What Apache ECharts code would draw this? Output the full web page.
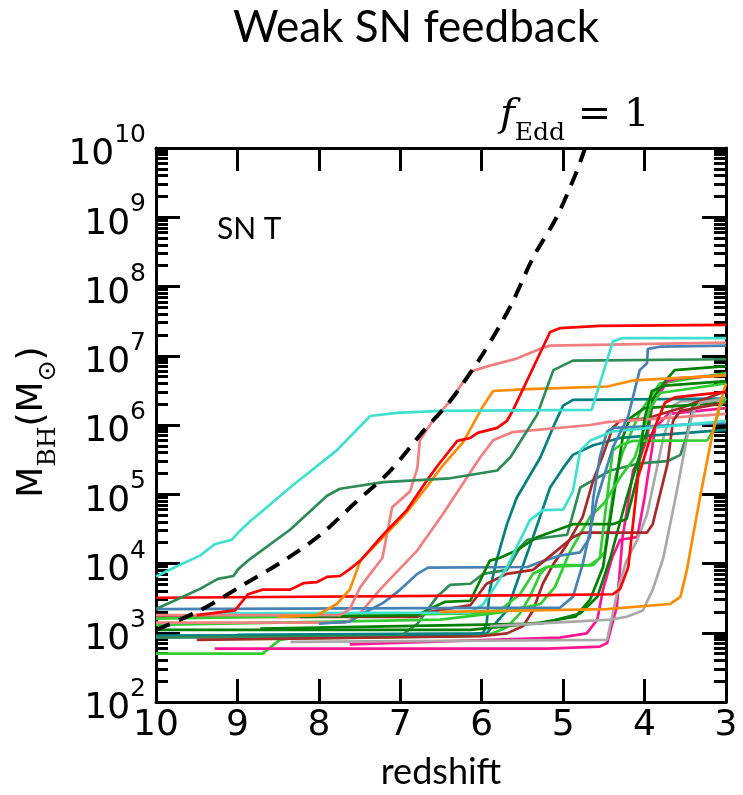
<!DOCTYPE html>
<html>
<head>
<meta charset="utf-8">
<script src="https://cdn.jsdelivr.net/npm/echarts@6/dist/echarts.min.js"></script>
<style>
  html, body { margin: 0; padding: 0; background: #fff; }
  #chart { width: 743px; height: 795px; }
</style>
</head>
<body>
<div id="chart"></div>
<script>
// Axis ranges
const redshiftRange = [3, 10];
const massRange = [1e2, 1e10];

// Black hole growth tracks: [redshift, M_BH / M_sun]
const turquoiseA = [[10,6.5e3],[9.71,9.5e3],[9.46,1.3e4],[9.28,1.9e4],[9.07,2.2e4],[8.99,2.8e4],[8.85,4.0e4],[8.32,1.35e5],[7.78,4.3e5],[7.37,1.35e6],[7.04,1.5e6],[6.51,1.6e6],[4.65,1.65e6],[4.39,1.6e7],[4.27,1.8e7],[3.0,1.8e7]];
const seagreenA = [[10,2.2e3],[9.67,3.3e3],[9.46,4.3e3],[9.24,6.0e3],[9.05,6.6e3],[8.99,8.3e3],[8.85,1.15e4],[8.35,3.1e4],[7.9,9.5e4],[7.74,1.2e5],[7.21,1.5e5],[6.39,1.7e5],[5.81,2.2e5],[5.65,3.4e5],[5.32,1.4e6],[5.12,6.2e6],[4.88,8.5e6],[3.0,8.9e6]];
const redA = [[9.5,1.8e3],[9.03,2.1e3],[8.87,3.6e3],[8.69,4.2e3],[8.35,4.2e3],[8.19,5.2e3],[8.02,5.4e3],[7.9,6.4e3],[7.74,6.6e3],[7.62,8.3e3],[7.49,1.1e4],[7.21,2.6e4],[6.92,5.9e4],[6.67,1.6e5],[6.54,2.6e5],[6.3,5.9e5],[6.14,6.5e5],[6.05,7.7e5],[5.81,9.1e5],[5.69,1.15e6],[5.62,1.6e6],[5.16,2.2e7],[5.04,2.5e7],[4.55,2.7e7],[3.0,2.8e7]];
const orangeA = [[8.5,1.7e3],[8.02,1.8e3],[7.78,2.6e3],[7.62,4.2e3],[7.49,1.1e4],[7.21,2.4e4],[6.92,5.5e4],[6.67,1.3e5],[6.49,2.5e5],[6.23,5.6e5],[5.98,1.9e6],[5.86,3.1e6],[5.44,3.3e6],[4.46,3.6e6],[4.14,4.4e6],[3.0,5.2e6]];
const lightcoralA = [[10,1.8e3],[7.74,1.8e3],[7.62,2.2e3],[7.49,4.6e3],[7.22,1.2e4],[7.1,6.5e4],[6.88,1.1e5],[6.79,2.4e5],[6.76,6.0e5],[6.6,1.15e6],[6.39,2.2e6],[6.14,5.9e6],[5.9,7.2e6],[5.57,9.1e6],[5.28,1.26e7],[5.16,1.4e7],[3.0,1.55e7]];
const lightcoralB = [[10,1.4e3],[7.68,1.4e3],[7.53,1.7e3],[7.25,4.2e3],[6.79,1.55e4],[6.48,5.1e4],[6.02,3.4e5],[5.86,6.0e5],[5.62,7.9e5],[4.67,1.0e6],[4.46,1.1e6],[3.0,1.45e6]];
const tealA = [[10,9.1e2],[6.14,9.4e2],[5.98,1.0e3],[5.94,1.35e3],[5.9,4.2e3],[5.81,1.2e4],[5.69,3.7e4],[5.57,8.9e4],[5.28,3.4e5],[5.1,1.07e6],[5.0,1.9e6],[4.88,2.3e6],[3.0,2.4e6]];
const tealB = [[9.0,9.3e2],[5.94,9.8e2],[5.69,2.1e3],[5.37,2.4e4],[5.16,1.25e5],[5.0,2.4e5],[4.88,3.7e5],[4.63,5.1e5],[4.3,6.5e5],[3.0,8.5e5]];
const turquoiseB = [[9.25,1.9e3],[6.14,1.95e3],[5.98,2.6e3],[5.86,4.2e3],[5.69,8.9e3],[5.41,4.2e4],[5.25,5.9e4],[5.0,6.0e4],[4.88,1.1e5],[4.79,4.3e5],[4.67,5.9e5],[4.39,8.1e5],[3.0,1.15e6]];
const steelblueA = [[10,2.2e3],[5.04,2.3e3],[4.88,3.3e3],[4.76,9.8e3],[4.58,8.9e4],[4.39,4.7e5],[4.2,1.35e6],[4.06,6.2e6],[3.97,7.8e6],[3.96,1.26e7],[3.81,1.35e7],[3.0,1.4e7]];
const steelblueB = [[8.0,1.35e3],[7.62,1.45e3],[7.46,1.9e3],[7.21,2.7e3],[7.0,4.2e3],[6.79,7.1e3],[6.66,8.7e3],[5.44,8.9e3],[5.28,1.05e4],[5.04,1.3e4],[4.79,1.45e4],[4.67,2.4e4],[4.63,8.9e4],[4.55,3.4e5],[4.46,8.1e5],[4.39,9.1e5],[3.0,1.07e6]];
const seagreenB = [[10,8.5e2],[7.0,8.9e2],[6.79,1.35e3],[6.55,3.3e3],[6.39,4.9e3],[6.14,5.1e3],[5.98,7.1e3],[5.69,8.1e3],[5.53,1.7e4],[5.44,2.2e4],[4.95,2.6e4],[4.79,1.25e5],[4.63,1.6e5],[4.42,2.2e5],[4.06,2.8e5],[3.72,3.0e5],[3.56,3.7e5],[3.48,7.2e5],[3.41,1.9e6],[3.23,2.2e6],[3.0,2.4e6]];
const greenA = [[8.72,1.15e3],[5.28,1.35e3],[4.79,1.9e3],[4.58,3.3e3],[4.42,1.2e4],[4.22,8.9e4],[4.06,3.7e5],[3.97,8.1e5],[3.9,2.4e6],[3.81,3.4e6],[3.72,4.7e6],[3.63,6.2e6],[3.0,7.1e6]];
const greenB = [[8.23,1.7e3],[6.79,1.8e3],[6.64,2.2e3],[6.45,2.8e3],[6.14,2.9e3],[5.9,1.1e4],[5.78,1.2e4],[5.57,1.55e4],[5.32,2.4e4],[4.88,3.7e4],[4.39,3.7e4],[4.22,4.4e4],[4.09,1.75e5],[4.0,1.25e6],[3.91,3.1e6],[3.75,3.7e6],[3.0,4.3e6]];
const greenC = [[10,1.1e3],[6.14,1.1e3],[5.28,1.4e3],[4.85,1.7e3],[4.67,3.0e3],[4.51,8.9e3],[4.27,6.5e5],[4.18,1.25e6],[4.0,1.75e6],[3.0,2.1e6]];
const limegreenA = [[10,1.6e3],[6.11,1.9e3],[5.78,2.1e3],[5.53,3.6e3],[5.37,7.1e3],[5.2,8.9e3],[4.67,9.5e3],[4.55,1.2e4],[4.39,4.3e5],[4.3,5.1e5],[4.14,5.9e5],[3.23,6.0e5],[3.16,8.1e5],[3.07,1.9e6],[3.0,2.4e6]];
const limegreenB = [[10,5.0e2],[8.69,5.0e2],[8.48,7.9e2],[8.35,8.3e2],[6.18,8.9e2],[5.86,9.8e2],[5.69,1.2e3],[5.53,1.9e3],[5.41,3.3e3],[5.28,7.1e3],[5.2,8.9e3],[5.04,9.5e3],[4.63,9.5e3],[4.49,1.45e4],[4.36,1.75e5],[4.27,4.0e5],[4.06,1.5e6],[3.81,4.0e6],[3.0,5.6e6]];
const limegreenC = [[10,1.3e3],[6.51,1.55e3],[5.78,1.95e3],[5.28,2.6e3],[5.1,4.6e3],[4.92,1.45e4],[4.67,4.7e4],[4.49,7.6e4],[4.3,1.75e5],[4.12,3.4e5],[3.93,1.75e6],[3.81,2.9e6],[3.0,4.0e6]];
const brownA = [[10,1.7e3],[6.79,1.7e3],[6.64,2.0e3],[6.14,2.5e3],[5.94,5.1e3],[5.69,7.1e3],[5.37,8.1e3],[5.12,1.4e4],[4.88,2.4e4],[4.76,2.8e4],[3.97,2.8e4],[3.9,3.7e4],[3.72,2.7e5],[3.65,1.15e6],[3.56,1.6e6],[3.0,2.1e6]];
const brownB = [[9.5,7.9e2],[6.02,8.9e2],[5.69,9.8e2],[5.49,1.25e3],[5.37,2.1e3],[5.25,5.1e3],[5.12,9.8e3],[4.95,1.9e4],[4.76,4.7e4],[4.63,1.6e5],[4.51,3.7e5],[4.39,9.1e5],[4.3,1.15e6],[3.97,1.25e6],[3.56,1.75e6],[3.0,3.1e6]];
const redB = [[10,3.2e3],[5.2,3.5e3],[4.39,3.6e3],[4.3,4.3e3],[4.2,8.9e3],[4.08,1.75e5],[3.93,6.5e5],[3.75,2.1e6],[3.63,2.5e6],[3.0,3.0e6]];
const deeppinkA = [[9.28,5.9e2],[5.2,5.9e2],[4.55,6.3e2],[4.46,7.1e2],[4.34,2.4e3],[4.27,2.4e4],[4.14,2.2e5],[4.06,3.2e5],[3.97,6.5e5],[3.9,2.1e6],[3.81,2.9e6],[3.72,4.3e6],[3.6,4.7e6],[3.0,5.2e6]];
const deeppinkB = [[7.62,6.8e2],[5.04,8.5e2],[4.71,9.8e2],[4.58,1.55e3],[4.51,4.2e3],[4.4,1.2e4],[4.3,2.2e4],[4.09,2.4e4],[4.0,8.9e4],[3.87,9.1e5],[3.71,1.45e6],[3.0,1.75e6]];
const darkgrayA = [[8.35,7.4e2],[4.46,7.9e2],[4.34,3.6e3],[4.23,1.05e4],[4.09,2.2e4],[3.97,5.1e4],[3.77,6.5e5],[3.65,1.9e6],[3.56,2.2e6],[3.0,2.3e6]];
const darkgrayB = [[5.9,1.25e3],[4.42,1.55e3],[4.22,1.7e3],[4.02,2.1e3],[3.9,4.2e3],[3.77,1.2e4],[3.62,8.9e4],[3.48,6.5e5],[3.41,1.5e6],[3.32,2.1e6],[3.0,2.4e6]];
const orangeB = [[6.51,2.0e3],[4.46,2.2e3],[3.69,2.6e3],[3.56,3.3e3],[3.48,8.1e3],[3.32,8.9e4],[3.16,8.1e5],[3.07,2.1e6],[3.0,4.0e6]];

// Eddington-limited growth (f_Edd = 1)
const eddingtonTrack = [[10,1.1e3],[9.46,2.1e3],[8.93,4.9e3],[8.43,1.1e4],[7.98,2.6e4],[7.55,7.6e4],[7.12,2.2e5],[6.72,8.1e5],[6.39,2.2e6],[6.0,1.0e7],[5.65,5.1e7],[5.37,2.6e8],[5.08,1.0e9],[4.85,4.1e9],[4.73,1.0e10]];

// Drawing order and colours
const tracks = [
  [limegreenB, '#32cd32'], [deeppinkA, '#ff1493'], [deeppinkB, '#ff1493'],
  [darkgrayA, '#a9a9a9'], [tealA, '#008080'], [tealB, '#008080'],
  [seagreenB, '#2e8b57'], [brownB, '#a52a2a'], [greenC, '#008000'],
  [greenA, '#008000'], [limegreenC, '#32cd32'], [darkgrayB, '#a9a9a9'],
  [lightcoralB, '#f08080'], [steelblueB, '#4682b4'], [brownA, '#a52a2a'],
  [limegreenA, '#32cd32'], [greenB, '#008000'], [turquoiseB, '#40e0d0'],
  [orangeB, '#ff8c00'], [steelblueA, '#4682b4'], [redB, '#ff0000'],
  [lightcoralA, '#f08080'], [orangeA, '#ff8c00'], [redA, '#ff0000'],
  [seagreenA, '#2e8b57'], [turquoiseA, '#40e0d0']
];

// Minor log ticks (2..9 x 10^n), expressed in decades
const minorDecades = [];
for (let d = 2; d < 10; d++) {
  for (let k = 2; k <= 9; k++) minorDecades.push(d + Math.log10(k));
}

const chart = echarts.init(document.getElementById('chart'), null, { renderer: 'canvas' });

const axisLine = { show: true, onZero: false, lineStyle: { color: '#000', width: 3 } };
const majorTick = (len) => ({ show: true, inside: true, length: len, lineStyle: { color: '#000', width: 3 } });

const series = tracks.map(([data, color]) => ({
  type: 'line',
  data: data,
  xAxisIndex: 0,
  yAxisIndex: 0,
  showSymbol: false,
  symbol: 'none',
  silent: true,
  lineStyle: { color: color, width: 2.7 },
  z: 2
}));
series.push({
  type: 'line',
  data: eddingtonTrack,
  xAxisIndex: 0,
  yAxisIndex: 0,
  showSymbol: false,
  symbol: 'none',
  silent: true,
  smooth: 0.3,
  lineStyle: { color: '#000', width: 4, type: [15, 10] },
  z: 3
});

chart.setOption({
  animation: false,
  backgroundColor: '#fff',
  grid: { left: 156, top: 148, width: 570, height: 558, containLabel: false },
  xAxis: [
    {
      type: 'value', min: redshiftRange[0], max: redshiftRange[1], interval: 1, inverse: true,
      position: 'bottom', axisLine: axisLine, axisTick: majorTick(23),
      axisLabel: { color: '#000', fontFamily: 'DejaVu Sans', fontSize: 36, margin: 6 },
      splitLine: { show: false },
      name: 'redshift', nameLocation: 'middle', nameGap: 52,
      nameTextStyle: { color: '#000', fontFamily: 'Lato', fontSize: 36 }
    },
    {
      type: 'value', min: redshiftRange[0], max: redshiftRange[1], interval: 1, inverse: true,
      position: 'top', axisLine: axisLine, axisTick: majorTick(23),
      axisLabel: { show: false }, splitLine: { show: false }
    }
  ],
  yAxis: [
    {
      type: 'log', logBase: 10, min: massRange[0], max: massRange[1], splitNumber: 8,
      position: 'left', axisLine: axisLine, axisTick: majorTick(24),
      axisLabel: {
        margin: 10,
        formatter: (v) => '{b|10}{s|' + Math.round(Math.log10(v)) + '}',
        rich: {
          b: { fontFamily: 'DejaVu Sans', fontSize: 36, color: '#000', lineHeight: 50, verticalAlign: 'bottom' },
          s: { fontFamily: 'DejaVu Sans', fontSize: 25, color: '#000', verticalAlign: 'top' }
        }
      },
      splitLine: { show: false }
    },
    {
      type: 'value', min: 2, max: 10, position: 'left',
      axisLine: { show: false }, axisLabel: { show: false }, splitLine: { show: false },
      axisTick: { show: true, inside: true, length: 12, customValues: minorDecades, lineStyle: { color: '#000', width: 3 } }
    },
    {
      type: 'log', logBase: 10, min: massRange[0], max: massRange[1], splitNumber: 8,
      position: 'right', axisLine: axisLine, axisTick: majorTick(24),
      axisLabel: { show: false }, splitLine: { show: false }
    },
    {
      type: 'value', min: 2, max: 10, position: 'right',
      axisLine: { show: false }, axisLabel: { show: false }, splitLine: { show: false },
      axisTick: { show: true, inside: true, length: 12, customValues: minorDecades, lineStyle: { color: '#000', width: 3 } }
    }
  ],
  graphic: [
    {
      type: 'text', x: 416, y: 28, silent: true,
      style: { text: 'Weak SN feedback', fontFamily: 'Lato', fontSize: 44, fill: '#000', align: 'center', verticalAlign: 'middle' }
    },
    {
      type: 'text', x: 217, y: 229, silent: true,
      style: { text: 'SN T', fontFamily: 'Lato', fontSize: 30, fill: '#000', align: 'left', verticalAlign: 'middle' }
    },
    {
      type: 'text', x: 500, y: 116, silent: true,
      style: {
        text: '{f|f}{e|Edd}{n| = 1}', align: 'left', verticalAlign: 'middle',
        rich: {
          f: { fontFamily: 'DejaVu Serif', fontStyle: 'italic', fontSize: 40, fill: '#000', lineHeight: 60 },
          e: { fontFamily: 'DejaVu Serif', fontSize: 25, fill: '#000', verticalAlign: 'bottom' },
          n: { fontFamily: 'DejaVu Serif', fontSize: 40, fill: '#000', lineHeight: 60 }
        }
      }
    },
    {
      type: 'text', x: 33, y: 422, rotation: Math.PI / 2, silent: true,
      style: {
        text: '{m|M}{s|BH}{m|(M}{o|⊙}{m|)}', align: 'center', verticalAlign: 'middle',
        rich: {
          m: { fontFamily: 'DejaVu Sans', fontSize: 36, fill: '#000', lineHeight: 56 },
          s: { fontFamily: 'DejaVu Serif', fontSize: 25, fill: '#000', verticalAlign: 'bottom' },
          o: { fontFamily: 'DejaVu Sans', fontSize: 25, fill: '#000', verticalAlign: 'bottom' }
        }
      }
    }
  ],
  series: series
});
</script>
</body>
</html>
